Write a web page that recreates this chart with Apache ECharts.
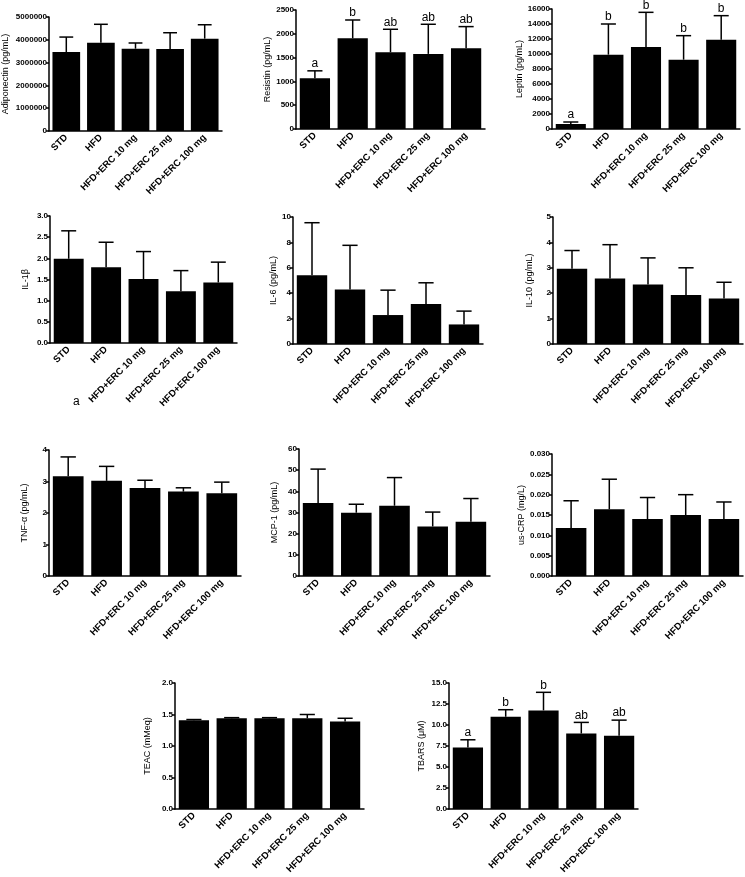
<!DOCTYPE html>
<html>
<head>
<meta charset="utf-8">
<script src="https://cdn.jsdelivr.net/npm/echarts@6/dist/echarts.min.js"></script>
<style>
  html, body { margin: 0; padding: 0; background: #fff; }
  #chart { width: 745px; height: 877px; }
</style>
</head>
<body>
<div id="chart"></div>
<script>
// groups on every panel
const groups = ['STD', 'HFD', 'HFD+ERC 10 mg', 'HFD+ERC 25 mg', 'HFD+ERC 100 mg'];

// mean and upper SD of each marker
const adiponectinMean = [3460000, 3870000, 3610000, 3600000, 4050000];
const adiponectinSd = [660000, 810000, 250000, 710000, 610000];

const resistinMean = [1068, 1906, 1613, 1578, 1697];
const resistinSd = [154, 384, 482, 622, 454];
const resistinSig = ['a', 'b', 'ab', 'ab', 'ab'];

const leptinMean = [667, 9911, 10933, 9244, 11911];
const leptinSd = [266, 4089, 4623, 3200, 3200];
const leptinSig = ['a', 'b', 'b', 'b', 'b'];

const il1bMean = [1.99, 1.79, 1.51, 1.22, 1.43];
const il1bSd = [0.66, 0.59, 0.65, 0.49, 0.48];

const il6Mean = [5.42, 4.29, 2.28, 3.14, 1.54];
const il6Sd = [4.13, 3.48, 1.96, 1.68, 1.05];

const il10Mean = [2.96, 2.58, 2.34, 1.93, 1.79];
const il10Sd = [0.72, 1.33, 1.05, 1.07, 0.64];

const tnfMean = [3.17, 3.02, 2.79, 2.68, 2.63];
const tnfSd = [0.61, 0.46, 0.25, 0.12, 0.35];

const mcpMean = [34.5, 29.9, 33.2, 23.4, 25.6];
const mcpSd = [16.0, 4.0, 13.3, 6.8, 11.0];

const crpMean = [0.0118, 0.0164, 0.0140, 0.0150, 0.0140];
const crpSd = [0.0067, 0.0074, 0.0053, 0.0050, 0.0042];

const teacMean = [1.41, 1.44, 1.44, 1.44, 1.39];
const teacSd = [0.01, 0.01, 0.01, 0.06, 0.05];

const tbarsMean = [7.32, 10.98, 11.74, 8.99, 8.71];
const tbarsSd = [0.92, 0.84, 2.15, 1.32, 1.87];
const tbarsSig = ['a', 'b', 'b', 'ab', 'ab'];

const FONT = '"Liberation Sans", Arial, sans-serif';

// one entry per panel: grid box in px, y axis range and name
const panels = [
  { name: 'Adiponectin (pg/mL)', mean: adiponectinMean, sd: adiponectinSd, max: 5000000, step: 1000000, dec: 0,
    box: { left: 49, top: 17, width: 173, height: 114 }, gap: 39 },
  { name: 'Resistin (pg/mL)', mean: resistinMean, sd: resistinSd, sig: resistinSig, max: 2500, step: 500, dec: 0,
    box: { left: 296, top: 10, width: 189, height: 119 }, gap: 24 },
  { name: 'Leptin (pg/mL)', mean: leptinMean, sd: leptinSd, sig: leptinSig, max: 16000, step: 2000, dec: 0,
    box: { left: 552, top: 9, width: 188, height: 120 }, gap: 28 },
  { name: 'IL-1β', mean: il1bMean, sd: il1bSd, max: 3, step: 0.5, dec: 1,
    box: { left: 50, top: 216, width: 187, height: 127 }, gap: 20 },
  { name: 'IL-6 (pg/mL)', mean: il6Mean, sd: il6Sd, max: 10, step: 2, dec: 0,
    box: { left: 293, top: 217, width: 190, height: 127 }, gap: 15 },
  { name: 'IL-10 (pg/mL)', mean: il10Mean, sd: il10Sd, max: 5, step: 1, dec: 0,
    box: { left: 553, top: 217, width: 190, height: 127 }, gap: 19 },
  { name: 'TNF-α (pg/mL)', mean: tnfMean, sd: tnfSd, max: 4, step: 1, dec: 0,
    box: { left: 49, top: 450, width: 192, height: 126 }, gap: 20 },
  { name: 'MCP-1 (pg/mL)', mean: mcpMean, sd: mcpSd, max: 60, step: 10, dec: 0,
    box: { left: 299, top: 449, width: 191, height: 127 }, gap: 20 },
  { name: 'us-CRP (mg/L)', mean: crpMean, sd: crpSd, max: 0.03, step: 0.005, dec: 3,
    box: { left: 552, top: 454, width: 191, height: 122 }, gap: 24 },
  { name: 'TEAC (mMeq)', mean: teacMean, sd: teacSd, max: 2, step: 0.5, dec: 1,
    box: { left: 175, top: 683, width: 189, height: 126 }, gap: 23 },
  { name: 'TBARS (μM)', mean: tbarsMean, sd: tbarsSd, sig: tbarsSig, max: 15, step: 2.5, dec: 1,
    box: { left: 449, top: 683, width: 189, height: 126 }, gap: 23 }
];

const grid = [], xAxis = [], yAxis = [], series = [];

panels.forEach((p, i) => {
  grid.push(Object.assign({ containLabel: false }, p.box));

  xAxis.push({
    type: 'category',
    gridIndex: i,
    data: groups,
    axisLine: { lineStyle: { color: '#000', width: 1.5 } },
    axisTick: { show: false },
    axisLabel: {
      interval: 0, rotate: 45, margin: 5,
      color: '#000', fontFamily: FONT, fontWeight: 'bold', fontSize: 9.5
    }
  });

  yAxis.push({
    type: 'value',
    gridIndex: i,
    min: 0, max: p.max, interval: p.step,
    name: p.name,
    nameLocation: 'middle',
    nameRotate: 90,
    nameGap: p.gap,
    nameTextStyle: { color: '#000', fontFamily: FONT, fontSize: 9 },
    splitLine: { show: false },
    axisLine: { show: true, lineStyle: { color: '#000', width: 1.5 } },
    axisTick: { show: true, length: 3, lineStyle: { color: '#000', width: 1.5 } },
    axisLabel: {
      margin: 2, color: '#000', fontFamily: FONT, fontWeight: 'bold', fontSize: 8,
      formatter: v => v.toFixed(p.dec)
    }
  });

  series.push({
    type: 'bar',
    xAxisIndex: i, yAxisIndex: i,
    data: p.mean,
    barCategoryGap: '20%',
    itemStyle: { color: '#000' },
    silent: true
  });

  // upper error bar plus optional significance letter
  const sig = p.sig || [];
  series.push({
    type: 'custom',
    xAxisIndex: i, yAxisIndex: i,
    z: 3,
    silent: true,
    data: p.mean.map((m, k) => [k, m, m + p.sd[k]]),
    renderItem: (params, api) => {
      const base = api.coord([api.value(0), api.value(1)]);
      const top = api.coord([api.value(0), api.value(2)]);
      const half = api.size([1, 0])[0] * 0.8 / 4;
      const children = [
        { type: 'line', shape: { x1: base[0], y1: base[1], x2: top[0], y2: top[1] },
          style: { stroke: '#000', lineWidth: 1.5 } },
        { type: 'line', shape: { x1: top[0] - half, y1: top[1], x2: top[0] + half, y2: top[1] },
          style: { stroke: '#000', lineWidth: 1.5 } }
      ];
      const letter = sig[params.dataIndex];
      if (letter) {
        children.push({
          type: 'text',
          style: {
            text: letter, x: top[0], y: top[1] - 1,
            align: 'center', verticalAlign: 'bottom',
            font: '12px ' + FONT, fill: '#000'
          }
        });
      }
      return { type: 'group', children };
    }
  });
});

const chart = echarts.init(document.getElementById('chart'));
chart.setOption({
  animation: false,
  backgroundColor: '#fff',
  grid, xAxis, yAxis, series,
  graphic: [
    // stray letter printed beside the IL-1β x labels
    { type: 'text', left: 73, top: 396,
      style: { text: 'a', font: '12px ' + FONT, fill: '#000' } }
  ]
});
</script>
</body>
</html>
